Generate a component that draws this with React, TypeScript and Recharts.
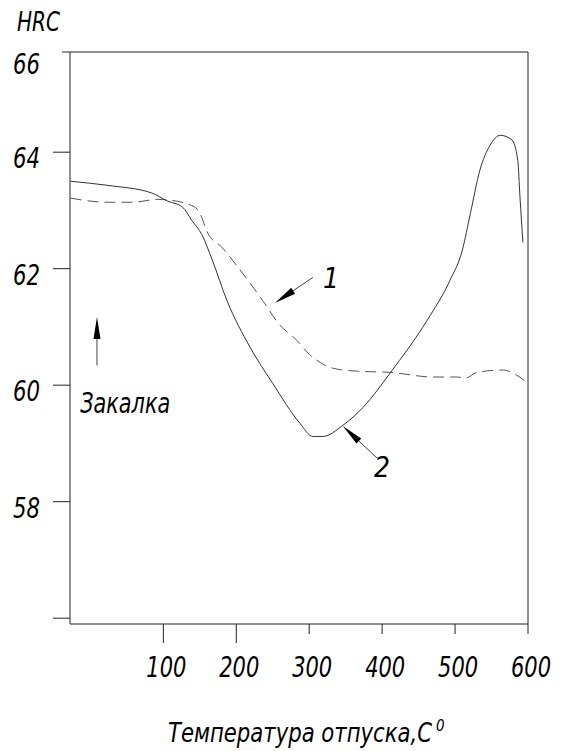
import { LineChart, Line, XAxis, YAxis, ReferenceLine, ReferenceDot } from "recharts";

// hardness vs tempering temperature
const temps1 = [-27, 24, 57, 93, 106, 143, 150, 161, 180, 202, 233, 260, 283, 301, 315, 333, 366, 411, 470, 503, 514, 530, 566, 579, 600];
const hrc1 = [63.21, 63.14, 63.14, 63.19, 63.18, 63.06, 62.95, 62.61, 62.37, 62.03, 61.51, 61.03, 60.77, 60.52, 60.39, 60.29, 60.24, 60.22, 60.14, 60.14, 60.12, 60.22, 60.26, 60.21, 60.03];

const temps2 = [-27, 24, 84, 106, 126, 139, 153, 167, 187, 219, 250, 287, 305, 319, 346, 374, 411, 462, 493, 510, 521, 534, 548, 562, 578, 586, 589, 593];
const hrc2 = [63.5, 63.43, 63.3, 63.16, 63.06, 62.83, 62.58, 62.15, 61.46, 60.65, 60.03, 59.35, 59.12, 59.12, 59.31, 59.62, 60.21, 61.12, 61.8, 62.32, 62.95, 63.69, 64.12, 64.29, 64.21, 63.86, 63.23, 62.45];

const xTicks = [100, 200, 300, 400, 500, 600];
const longXTicks = [100, 200];
const yTicks = [56, 58, 60, 62, 64, 65.72];
const yTickLabels = ["", "58", "60", "62", "64", "66"];
const xDomain: [number, number] = [-28, 600];
const yDomain: [number, number] = [55.9, 65.72];

// annotation arrows (data coords) and texts
const arrows = [
  { from: [9, 60.34], to: [9, 61.17] },
  { from: [305, 61.85], to: [253, 61.41] },
  { from: [393, 58.75], to: [346, 59.3] },
];
const notes = [
  { t: -14, hrc: 59.52, text: "Закалка", anchor: "start", width: 90 },
  { t: 330, hrc: 61.67, text: "1", anchor: "middle", width: 0 },
  { t: 400, hrc: 58.42, text: "2", anchor: "middle", width: 0 },
];

const series1 = temps1.map((t, i) => ({ t, hrc: hrc1[i] }));
const series2 = temps2.map((t, i) => ({ t, hrc: hrc2[i] }));

const FONT = "'DejaVu Sans Condensed', 'DejaVu Sans', sans-serif";
const INK = "#222";

const YTick = (props: any) => {
  const { x, y, payload, index } = props;
  const top = payload.value === yDomain[1];
  const label = yTickLabels[index] ?? "";
  return (
    <g>
      <line x1={x - (top ? 8 : 17)} x2={x} y1={y} y2={y} stroke={INK} />
      {label && (
        <text x={x - 30} y={y + (top ? 22 : 16)} textAnchor="end" fontFamily={FONT} fontStyle="italic" fontSize={28} fill="#000" textLength={27} lengthAdjust="spacingAndGlyphs">
          {label}
        </text>
      )}
    </g>
  );
};

const XTick = (props: any) => {
  const { x, y, payload } = props;
  const len = longXTicks.includes(payload.value) ? 19 : 10;
  return (
    <g>
      <line x1={x} x2={x} y1={y} y2={y + len} stroke={INK} />
      <text x={x + 3} y={y + 53} textAnchor="middle" fontFamily={FONT} fontStyle="italic" fontSize={28} fill="#000" textLength={40} lengthAdjust="spacingAndGlyphs">
        {payload.value}
      </text>
    </g>
  );
};

const Arrow = (p: any) => {
  const { x1, y1, x2, y2 } = p;
  const dx = x2 - x1;
  const dy = y2 - y1;
  const len = Math.hypot(dx, dy) || 1;
  const ux = dx / len;
  const uy = dy / len;
  const hl = 22;
  const hw = 3.5;
  const bx = x2 - ux * hl;
  const by = y2 - uy * hl;
  return (
    <g>
      <line x1={x1} y1={y1} x2={bx} y2={by} stroke="#444" strokeWidth={1} />
      <polygon points={`${x2},${y2} ${bx - uy * hw},${by + ux * hw} ${bx + uy * hw},${by - ux * hw}`} fill="#000" />
    </g>
  );
};

export default function App() {
  return (
    <div style={{ position: "absolute", left: 0, top: 0, width: 563, height: 751, background: "#fff" }}>
      <LineChart width={563} height={751} margin={{ top: 52, right: 35, bottom: 0, left: 0 }}>
        <XAxis
          type="number"
          dataKey="t"
          domain={xDomain}
          ticks={xTicks}
          allowDataOverflow
          height={127}
          tickSize={0}
          tickMargin={0}
          tickLine={false}
          axisLine={{ stroke: INK }}
          tick={<XTick />}
          label={{
            content: (lp: any) => {
              const vb = lp.viewBox;
              return (
                <text x={vb.x + 98} y={vb.y + 118} fontFamily={FONT} fontStyle="italic" fontSize={26} fill="#000">
                  <tspan textLength={264} lengthAdjust="spacingAndGlyphs">Температура отпуска,С</tspan>
                  <tspan dx={4} dy={-11} fontSize={15}>0</tspan>
                </text>
              );
            },
          }}
        />
        <YAxis
          type="number"
          domain={yDomain}
          ticks={yTicks}
          allowDataOverflow
          width={70}
          tickSize={0}
          tickMargin={0}
          tickLine={false}
          axisLine={{ stroke: INK }}
          tick={<YTick />}
          label={{
            content: (lp: any) => {
              const vb = lp.viewBox;
              return (
                <text x={vb.x + 17} y={vb.y - 21} fontFamily={FONT} fontStyle="italic" fontSize={27} fill="#000" textLength={43} lengthAdjust="spacingAndGlyphs">
                  HRC
                </text>
              );
            },
          }}
        />
        <ReferenceLine y={yDomain[1]} stroke={INK} ifOverflow="visible" />
        <ReferenceLine x={xDomain[1]} stroke={INK} ifOverflow="visible" />
        <Line data={series1} dataKey="hrc" type="monotone" stroke="#555" strokeWidth={1} strokeDasharray="11 6" dot={false} isAnimationActive={false} />
        <Line data={series2} dataKey="hrc" type="monotone" stroke="#333" strokeWidth={1} dot={false} isAnimationActive={false} />
        {arrows.map((a, i) => (
          <ReferenceLine
            key={"a" + i}
            segment={[{ x: a.from[0], y: a.from[1] }, { x: a.to[0], y: a.to[1] }]}
            ifOverflow="visible"
            shape={<Arrow />}
          />
        ))}
        {notes.map((n, i) => (
          <ReferenceDot
            key={"n" + i}
            x={n.t}
            y={n.hrc}
            r={0}
            ifOverflow="visible"
            shape={(sp: any) => (
              <text
                x={sp.cx}
                y={sp.cy}
                textAnchor={n.anchor as any}
                fontFamily={FONT}
                fontStyle="italic"
                fontSize={28}
                fill="#000"
                {...(n.width ? { textLength: n.width, lengthAdjust: "spacingAndGlyphs" } : {})}
              >
                {n.text}
              </text>
            )}
          />
        ))}
      </LineChart>
    </div>
  );
}
